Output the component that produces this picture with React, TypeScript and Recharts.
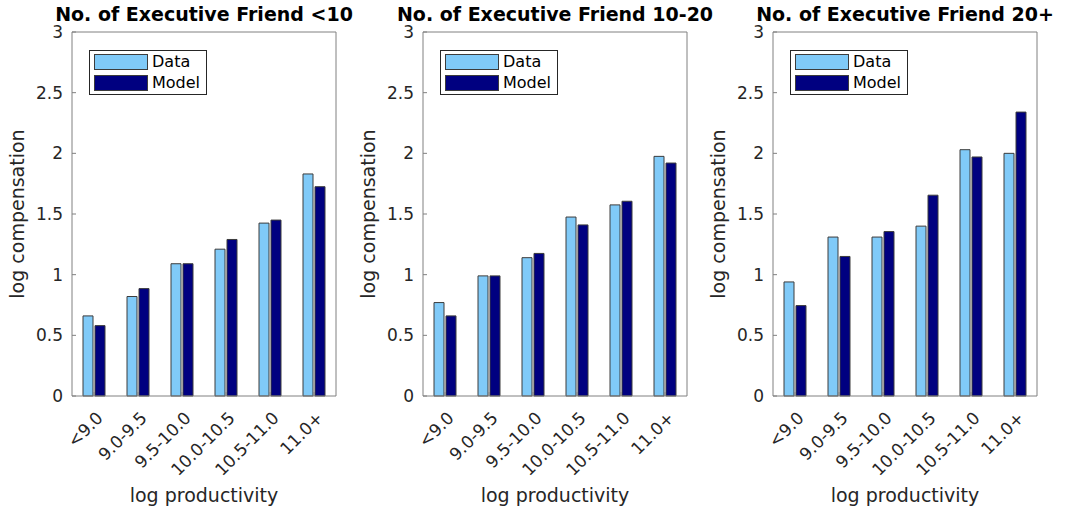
import React from "react";
import { BarChart, Bar, XAxis, YAxis, Legend } from "recharts";

const categories = ["<9.0", "9.0-9.5", "9.5-10.0", "10.0-10.5", "10.5-11.0", "11.0+"];
const titles = [
  "No. of Executive Friend <10",
  "No. of Executive Friend 10-20",
  "No. of Executive Friend 20+",
];
const dataLt10 = [0.66, 0.82, 1.09, 1.21, 1.425, 1.83];
const modelLt10 = [0.58, 0.885, 1.09, 1.29, 1.45, 1.725];
const data10to20 = [0.77, 0.99, 1.14, 1.475, 1.575, 1.975];
const model10to20 = [0.66, 0.99, 1.175, 1.41, 1.605, 1.92];
const data20plus = [0.94, 1.31, 1.31, 1.4, 2.03, 2.0];
const model20plus = [0.745, 1.15, 1.355, 1.655, 1.97, 2.34];
const yTicks = [0, 0.5, 1, 1.5, 2, 2.5, 3];

const FONT = "'DejaVu Sans', Verdana, sans-serif";
const TEXT = "#262626";
const AXIS = "#808080";
const DATA_COLOR = "#80CAF8";
const MODEL_COLOR = "#000080";
const EDGE = "#3c3c3c";

const buildRows = (data: number[], model: number[]) =>
  categories.map((cat, i) => ({ cat, Data: data[i], Model: model[i] }));

const panels = [
  { title: titles[0], rows: buildRows(dataLt10, modelLt10), left: 0 },
  { title: titles[1], rows: buildRows(data10to20, model10to20), left: 351 },
  { title: titles[2], rows: buildRows(data20plus, model20plus), left: 701 },
];

// rotated category labels, right end sits just past the tick
const XTick = (props: any) => {
  const { x, y, payload } = props;
  const ax = x + 10;
  const ay = y + 23;
  return (
    <text
      x={ax}
      y={ay}
      transform={`rotate(-45, ${ax}, ${ay})`}
      textAnchor="end"
      fontSize={17}
      fontFamily={FONT}
      fill={TEXT}
    >
      {payload.value}
    </text>
  );
};

const LegendBox = () => (
  <div
    style={{
      border: `1px solid ${TEXT}`,
      background: "#fff",
      width: 116,
      height: 43,
      fontFamily: FONT,
      fontSize: 16,
      color: "#000",
      boxSizing: "content-box",
    }}
  >
    {[
      { name: "Data", color: DATA_COLOR },
      { name: "Model", color: MODEL_COLOR },
    ].map((it) => (
      <div key={it.name} style={{ position: "relative", height: 21 }}>
        <div
          style={{
            position: "absolute",
            left: 4,
            top: 3,
            width: 52,
            height: 14,
            background: it.color,
            border: `1px solid ${EDGE}`,
          }}
        />
        <span style={{ position: "absolute", left: 62, top: 0, lineHeight: "21px" }}>{it.name}</span>
      </div>
    ))}
  </div>
);

const Panel = ({ title, rows }: { title: string; rows: any[] }) => (
  <BarChart
    width={362}
    height={512}
    data={rows}
    margin={{ top: 31, right: 25, left: 0, bottom: 0 }}
    barSize={10}
    barGap={2}
  >
    <XAxis
      dataKey="cat"
      height={116}
      interval={0}
      tickSize={-4}
      tickMargin={4}
      tick={<XTick />}
      stroke={AXIS}
      axisLine={{ stroke: AXIS }}
      tickLine={{ stroke: AXIS }}
      label={{
        content: (p: any) => {
          const vb = p.viewBox;
          return (
            <text
              x={vb.x + vb.width / 2}
              y={vb.y + 106}
              textAnchor="middle"
              fontSize={19}
              fontFamily={FONT}
              fill={TEXT}
            >
              log productivity
            </text>
          );
        },
      }}
    />
    {/* top border of the box, ticks inward */}
    <XAxis
      xAxisId="top"
      orientation="top"
      dataKey="cat"
      height={1}
      interval={0}
      tick={false}
      tickSize={-4}
      axisLine={{ stroke: AXIS }}
      tickLine={{ stroke: AXIS }}
      label={{
        content: (p: any) => {
          const vb = p.viewBox;
          return (
            <text
              x={vb.x + vb.width / 2}
              y={21}
              textAnchor="middle"
              fontSize={19}
              fontWeight="bold"
              fontFamily={FONT}
              fill="#000"
            >
              {title}
            </text>
          );
        },
      }}
    />
    <YAxis
      width={72}
      domain={[0, 3]}
      ticks={yTicks}
      interval={0}
      tickSize={-4}
      tickMargin={13}
      axisLine={{ stroke: AXIS }}
      tickLine={{ stroke: AXIS }}
      tick={{ fontSize: 17, fontFamily: FONT, fill: TEXT }}
      label={{
        content: (p: any) => {
          const vb = p.viewBox;
          const cx = vb.x + 17;
          const cy = vb.y + vb.height / 2;
          return (
            <text
              x={cx}
              y={cy}
              transform={`rotate(-90, ${cx}, ${cy})`}
              textAnchor="middle"
              dominantBaseline="central"
              fontSize={19}
              fontFamily={FONT}
              fill={TEXT}
            >
              log compensation
            </text>
          );
        },
      }}
    />
    {/* right border of the box */}
    <YAxis
      yAxisId="right"
      orientation="right"
      width={1}
      domain={[0, 3]}
      allowDataOverflow
      ticks={yTicks}
      interval={0}
      tick={false}
      tickSize={-4}
      axisLine={{ stroke: AXIS }}
      tickLine={{ stroke: AXIS }}
    />
    <Legend
      layout="vertical"
      align="center"
      verticalAlign="middle"
      wrapperStyle={{ left: 89, top: 50, width: 118, height: 45 }}
      content={() => <LegendBox />}
    />
    <Bar dataKey="Data" fill={DATA_COLOR} stroke={EDGE} strokeWidth={1} isAnimationActive={false} />
    <Bar dataKey="Model" fill={MODEL_COLOR} stroke={EDGE} strokeWidth={1} isAnimationActive={false} />
  </BarChart>
);

export default function App() {
  return (
    <div
      style={{
        position: "absolute",
        left: 0,
        top: 0,
        width: 1067,
        height: 512,
        background: "#fff",
        overflow: "hidden",
      }}
    >
      {panels.map((p) => (
        <div key={p.title} style={{ position: "absolute", left: p.left, top: 0 }}>
          <Panel title={p.title} rows={p.rows} />
        </div>
      ))}
    </div>
  );
}
